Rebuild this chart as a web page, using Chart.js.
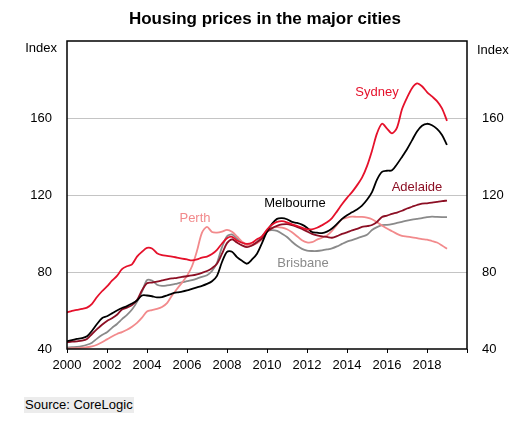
<!DOCTYPE html>
<html>
<head>
<meta charset="utf-8">
<title>Housing prices in the major cities</title>
<script src="https://cdn.jsdelivr.net/npm/chart.js@4.4.1/dist/chart.umd.min.js"></script>
<style>
    body { margin: 0; background: #fff; }
    #wrap { position: relative; width: 517px; height: 422px; font-family: "Liberation Sans", Arial, sans-serif; }
    #title { position: absolute; left: 0; width: 530px; top: 9px; text-align: center; font-size: 17px; font-weight: bold; color: #000; }
    #source { position: absolute; left: 24px; top: 397px; padding: 0 1px; font-size: 13px; line-height: 16px; color: #000; background: #ececec; }
    canvas { position: absolute; left: 0; top: 0; }
</style>
</head>
<body>
<div id="wrap">
    <canvas id="chart" width="517" height="422"></canvas>
    <div id="title">Housing prices in the major cities</div>
    <div id="source">Source: CoreLogic</div>
</div>
<script>
(function(){
    'use strict';

    // quarters, as decimal years
    const quarters = [
        2000.00, 2000.25, 2000.50, 2000.75, 2001.00, 2001.25, 2001.50, 2001.75,
        2002.00, 2002.25, 2002.50, 2002.75, 2003.00, 2003.25, 2003.50, 2003.75,
        2004.00, 2004.25, 2004.50, 2004.75, 2005.00, 2005.25, 2005.50, 2005.75,
        2006.00, 2006.25, 2006.50, 2006.75, 2007.00, 2007.25, 2007.50, 2007.75,
        2008.00, 2008.25, 2008.50, 2008.75, 2009.00, 2009.25, 2009.50, 2009.75,
        2010.00, 2010.25, 2010.50, 2010.75, 2011.00, 2011.25, 2011.50, 2011.75,
        2012.00, 2012.25, 2012.50, 2012.75, 2013.00, 2013.25, 2013.50, 2013.75,
        2014.00, 2014.25, 2014.50, 2014.75, 2015.00, 2015.25, 2015.50, 2015.75,
        2016.00, 2016.25, 2016.50, 2016.75, 2017.00, 2017.25, 2017.50, 2017.75,
        2018.00, 2018.25, 2018.50, 2018.75, 2019.00
    ];

    const sydney = [
        59.0, 59.8, 60.3, 60.8, 61.5, 63.5, 67.0, 70.0,
        72.5, 75.5, 78.0, 81.5, 83.0, 84.0, 88.0, 90.5,
        92.5, 92.2, 89.8, 88.8, 88.4, 88.0, 87.5, 87.0,
        86.5, 86.0, 86.5, 87.5, 88.0, 89.3, 91.5, 94.8,
        97.5, 98.3, 96.4, 95.2, 94.6, 95.2, 97.0, 98.5,
        102.0, 104.5, 106.0, 106.4, 105.8, 104.8, 104.0, 103.0,
        102.2, 102.2, 103.0, 104.3, 105.8, 108.0, 111.5, 115.2,
        118.5, 121.5, 125.0, 129.0, 135.0, 143.0, 152.0, 157.0,
        154.5, 152.0, 155.0, 164.5, 170.5, 175.5, 178.0, 176.5,
        173.5, 171.2, 168.8, 165.0, 158.5
    ];

    const melbourne = [
        44.1, 44.6, 45.2, 45.6, 46.6, 49.5, 53.0, 56.0,
        57.0, 58.5, 60.0, 61.3, 62.3, 63.6, 65.2, 67.8,
        67.8, 67.4, 66.8, 67.0, 67.8, 68.8, 69.4, 69.8,
        70.4, 71.2, 72.0, 72.8, 73.8, 75.2, 78.0, 85.2,
        90.5, 90.5, 87.7, 85.8, 84.3, 86.5, 89.5, 95.0,
        101.0, 105.0, 107.6, 108.0, 107.4, 106.0, 105.5, 104.6,
        103.0, 100.8, 100.4, 100.2, 101.0, 102.6, 105.0, 107.6,
        109.5, 111.0, 112.5, 114.5, 117.5, 121.5, 128.0, 132.0,
        132.6, 132.8, 136.0, 139.8, 143.8, 148.4, 153.0, 156.0,
        157.0, 156.2, 154.3, 151.2, 146.0
    ];

    const adelaide = [
        43.5, 43.8, 44.0, 44.3, 45.2, 47.8, 50.3, 52.6,
        54.6, 56.0, 57.8, 60.5, 61.5, 62.8, 65.4, 70.5,
        74.2, 74.5, 75.0, 75.6, 76.2, 76.7, 77.0, 77.5,
        77.8, 78.2, 78.8, 79.6, 80.5, 82.0, 84.3, 89.5,
        95.0, 97.0, 95.3, 93.8, 92.9, 93.8, 95.5, 97.5,
        100.8, 102.8, 104.0, 104.7, 104.9, 104.3, 103.4, 102.4,
        101.1, 99.8, 99.0, 98.5, 98.2, 97.8, 98.6, 99.8,
        100.6, 101.6, 102.4, 103.4, 103.8, 104.4, 106.0, 108.6,
        109.3, 110.2, 110.9, 111.8, 113.0, 113.9, 114.8, 115.5,
        115.7, 116.0, 116.4, 116.8, 117.1
    ];

    const perth = [
        40.3, 40.4, 40.5, 40.7, 40.9, 41.3, 42.2, 43.5,
        45.0, 46.5, 47.8, 48.8, 50.0, 51.6, 53.6, 56.3,
        59.5, 60.2, 60.8, 61.8, 63.8, 67.8, 71.2, 74.5,
        78.0, 83.0, 91.0, 100.5, 103.4, 100.8, 100.5, 101.0,
        101.9, 100.9, 98.5, 95.8, 94.0, 94.2, 95.0, 97.0,
        101.0, 102.8, 103.3, 103.0, 102.2, 100.6, 98.6, 96.5,
        95.4, 95.5, 96.8, 97.8, 99.0, 101.4, 104.5, 107.4,
        108.3, 108.8, 108.6, 108.6, 108.2, 107.4, 105.8, 104.2,
        102.6, 101.2, 99.8, 98.8, 98.4, 98.0, 97.6, 97.1,
        96.8, 96.1, 95.3, 93.8, 92.1
    ];

    const brisbane = [
        40.7, 40.9, 41.1, 41.5, 42.2, 43.3, 45.4, 47.3,
        48.7, 51.0, 53.0, 55.5, 57.7, 60.5, 64.5, 69.8,
        75.8, 75.5, 73.4, 72.8, 73.0, 73.4, 74.0, 74.6,
        75.2, 75.8, 76.6, 77.5, 78.3, 80.5, 84.8, 92.9,
        98.5, 99.5, 97.3, 95.3, 94.3, 93.8, 95.5, 98.5,
        101.4, 101.8, 101.4, 99.9, 98.2, 95.7, 93.6, 92.0,
        91.1, 90.9, 90.9, 91.2, 91.7, 92.3, 93.3, 94.6,
        95.8, 96.6, 97.5, 98.4, 99.3, 101.8, 103.3, 104.3,
        104.5, 104.9, 105.5, 106.1, 106.7, 107.2, 107.6, 108.0,
        108.5, 108.8, 108.6, 108.5, 108.5
    ];

    const cities = ['Sydney', 'Melbourne', 'Adelaide', 'Perth', 'Brisbane'];
    const cityColors = ['#e5112b', '#000000', '#8c0f24', '#f28a8c', '#8a8a8a'];
    const yTicks = [40, 80, 120, 160];

    // where each city name sits, in data units
    const nameSpots = [
        { name: 'Sydney', x: 2015.5, y: 173.5, color: cityColors[0] },
        { name: 'Melbourne', x: 2011.4, y: 115.5, color: cityColors[1] },
        { name: 'Adelaide', x: 2017.5, y: 123.8, color: cityColors[2] },
        { name: 'Perth', x: 2006.4, y: 107.8, color: cityColors[3] },
        { name: 'Brisbane', x: 2011.8, y: 84.5, color: cityColors[4] }
    ];

    const allSeries = [sydney, melbourne, adelaide, perth, brisbane];
    const FONT = '"Liberation Sans", Arial, sans-serif';

    function toPoints(values){
        return values.map(function(v, i){ return { x: quarters[i], y: v }; });
    }

    const datasets = cities.map(function(name, i){
        return {
            label: name,
            data: toPoints(allSeries[i]),
            borderColor: cityColors[i],
            borderWidth: 1.8,
            pointRadius: 0,
            tension: 0.3,
            fill: false
        };
    });

    function yLabel(value){
        return yTicks.indexOf(value) >= 0 ? String(value) : '';
    }

    // frame, Index labels and city names
    const extras = {
        id: 'extras',
        afterDatasetsDraw: function(chart){
            const c = chart.ctx;
            const area = chart.chartArea;
            const xs = chart.scales.x;
            const ys = chart.scales.y;
            c.save();
            c.strokeStyle = '#000';
            c.lineWidth = 1.5;
            c.strokeRect(area.left, area.top, area.right - area.left, area.bottom - area.top);

            c.font = '13px ' + FONT;
            c.fillStyle = '#000';
            c.textBaseline = 'middle';
            c.textAlign = 'right';
            c.fillText('Index', area.left - 10, area.top + 7);
            c.textAlign = 'left';
            c.fillText('Index', area.right + 10, area.top + 9);

            c.textAlign = 'center';
            nameSpots.forEach(function(s){
                c.fillStyle = s.color;
                c.fillText(s.name, xs.getPixelForValue(s.x), ys.getPixelForValue(s.y));
            });
            c.restore();
        }
    };

    new Chart(document.querySelector('#chart'), {
        type: 'line',
        data: { datasets: datasets },
        options: {
            responsive: false,
            animation: false,
            devicePixelRatio: 1,
            layout: { padding: { top: 41, left: 0, right: 0, bottom: 0 } },
            plugins: {
                legend: { display: false },
                tooltip: { enabled: false },
                title: { display: false }
            },
            scales: {
                x: {
                    type: 'linear',
                    min: 2000,
                    max: 2020,
                    afterFit: function(scale){ scale.height = 73; },
                    border: { display: false },
                    grid: { drawOnChartArea: false, drawTicks: true, tickLength: 4, color: '#000', lineWidth: 1 },
                    ticks: {
                        stepSize: 2,
                        padding: 5,
                        maxRotation: 0,
                        autoSkip: false,
                        color: '#000',
                        font: { family: FONT, size: 13 },
                        callback: function(v){ return v < 2020 ? String(v) : ''; }
                    }
                },
                y: {
                    position: 'left',
                    min: 40,
                    max: 200,
                    afterFit: function(scale){ scale.width = 67; },
                    border: { display: false },
                    grid: {
                        drawTicks: false,
                        lineWidth: 1,
                        color: function(ctx){
                            const v = ctx.tick && ctx.tick.value;
                            return (v === 40 || v === 200) ? 'rgba(0,0,0,0)' : '#c4c4c4';
                        }
                    },
                    ticks: {
                        stepSize: 40,
                        padding: 15,
                        color: '#000',
                        font: { family: FONT, size: 13 },
                        callback: yLabel
                    }
                },
                y2: {
                    position: 'right',
                    min: 40,
                    max: 200,
                    afterFit: function(scale){ scale.width = 50; },
                    border: { display: false },
                    grid: { drawOnChartArea: false, drawTicks: false },
                    ticks: {
                        stepSize: 40,
                        padding: 15,
                        color: '#000',
                        font: { family: FONT, size: 13 },
                        callback: yLabel
                    }
                }
            }
        },
        plugins: [extras]
    });
})();
</script>
</body>
</html>
